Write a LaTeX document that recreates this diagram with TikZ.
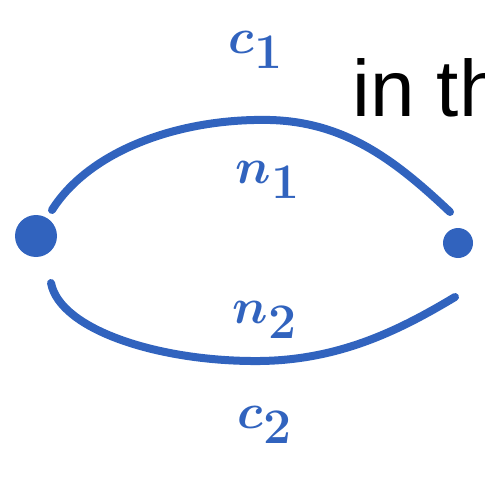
\documentclass[tikz,border=0pt]{standalone}
\usepackage{fontspec}
\setsansfont{Liberation Sans}
\usetikzlibrary{positioning}
\definecolor{ink}{RGB}{49,99,190}
\tikzset{
  stroke/.style={draw=ink, line width=4pt, line cap=round},
  blob/.style={circle, fill=ink, inner sep=0pt},
  hand/.style={text=ink, font=\fontsize{40}{42}\selectfont\boldmath, inner sep=0pt}
}
\begin{document}
\begin{tikzpicture}[x=0.5pt,y=-0.5pt]
  \useasboundingbox (0,0) rectangle (485,480);
  \clip (0,0) rectangle (485,480);
  % end points
  \node[blob, minimum size=21pt] (left) at (36,236) {};
  \node[blob, minimum size=15pt] (right) at (458,243) {};
  \coordinate (ua) at (52,210);
  \coordinate (ub) at (450,212);
  \coordinate (la) at (51,283);
  \coordinate (lb) at (455,297);
  % the two arcs
  \draw[stroke] (ua) .. controls (90,150) and (180,118) .. (270,120)
                      .. controls (345,122) and (395,160) .. (ub);
  \draw[stroke] (la) .. controls (60,330) and (160,362) .. (260,361)
                      .. controls (340,360) and (400,330) .. (lb);
  % labels
  \node[hand] (c1) at (256,50) {$c_1$};
  \node[hand] (n1) at (268,180) {$n_1$};
  \node[hand] (n2) at (265,320) {$n_2$};
  \node[hand] (c2) at (265,425) {$c_2$};
  \node[font=\sffamily\fontsize{40}{42}\selectfont, anchor=base west, inner sep=0pt] (txt) at (352,117) {in the};
\end{tikzpicture}
\end{document}
